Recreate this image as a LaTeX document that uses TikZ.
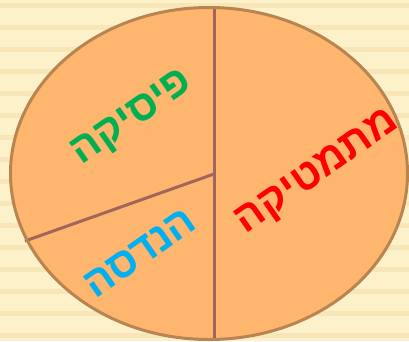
\documentclass[tikz,border=0pt]{standalone}
\usepackage{fontspec}
\usepackage{xcolor}
\newfontfamily\hebfont[Script=Hebrew]{Liberation Sans}
\TeXXeTstate=1
\definecolor{paper}{HTML}{FDF1C9}
\definecolor{stripe}{HTML}{F9E6B8}
\definecolor{pie}{HTML}{FEB66F}
\definecolor{rim}{HTML}{B8844F}
\definecolor{cut}{HTML}{A2655A}
\definecolor{physgreen}{HTML}{00B050}
\definecolor{engblue}{HTML}{00B0F0}
\definecolor{mathred}{HTML}{FF0000}

\begin{document}
\begin{tikzpicture}
    [x=1pt, y=-1pt,
     every node/.style={font=\hebfont\bfseries\fontsize{42}{46}\selectfont, inner sep=0pt},
     subject/.style={rotate=35}]
    \useasboundingbox (0,0) rectangle (409,341);
    \clip (0,0) rectangle (409,341);
    \fill[paper] (0,0) rectangle (409,341);
    \foreach \i in {0,...,15}
        \fill[stripe] (0,2.5+22*\i) rectangle (409,7.8+22*\i);
    \fill[pie] (209,173.5) ellipse [x radius=198.5, y radius=166];
    \coordinate (top) at (214,7.6);
    \coordinate (bot) at (214,339.4);
    \coordinate (hub) at (214,174);
    \coordinate (edge) at (25,241);
    \draw[cut, line width=3pt] (top) -- (bot);
    \draw[cut, line width=3pt] (hub) -- (edge);
    \draw[rim, line width=3pt] (209,173.5) ellipse [x radius=198.5, y radius=166];
    \node[subject, physgreen] (physics) at (133,119) {\beginR פיסיקה\endR};
    \node[subject, engblue] (engineering) at (140,253) {\beginR הנדסה\endR};
    \node[subject, mathred] (mathematics) at (318,173) {\beginR מתמטיקה\endR};
\end{tikzpicture}
\end{document}
